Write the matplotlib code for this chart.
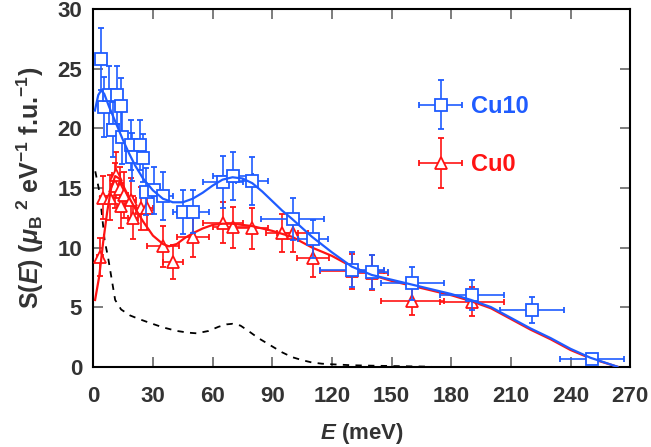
import matplotlib
matplotlib.use("Agg")
import matplotlib.pyplot as plt
from matplotlib.container import ErrorbarContainer
from matplotlib.legend_handler import HandlerErrorbar

plt.rcParams["font.family"] = ["Liberation Sans", "DejaVu Sans"]
plt.rcParams["font.weight"] = "bold"
plt.rcParams["mathtext.fontset"] = "custom"
plt.rcParams["mathtext.rm"] = "Liberation Sans:bold"
plt.rcParams["mathtext.it"] = "Liberation Sans:bold:italic"
plt.rcParams["mathtext.bf"] = "Liberation Sans:bold"

BLUE = "#1f5cff"
RED = "#ff1414"

# Cu10 data points
cu10_e = [3.7, 5.4, 7.8, 12.1, 14.1, 9.9, 14.5, 19.2, 23.4, 19.7, 25.0, 26.5, 30.3,
          35.2, 45.2, 50.2, 65.3, 70.4, 80.0, 100.2, 110.3, 130.2, 140.3, 160.5,
          190.6, 220.6, 250.9]
cu10_s = [25.8, 21.8, 22.8, 22.8, 21.9, 19.9, 19.3, 18.6, 18.6, 17.6, 17.5, 14.7, 14.8,
          14.3, 13.0, 13.0, 15.5, 16.0, 15.6, 12.4, 10.7, 8.15, 7.95, 7.0,
          6.0, 4.75, 0.65]
cu10_xerr = [1.5, 1.5, 1.5, 2, 2, 2, 2, 2.5, 2.5, 2.5, 2.5, 3, 3,
             5, 5, 8, 10, 10, 8, 16, 7.5, 16, 8, 16,
             16, 16, 16]
cu10_yerr = [2.6, 2.5, 2.4, 2.4, 2.3, 2.3, 2.3, 2.1, 2.1, 2.0, 2.0, 2.0, 2.0,
             2.0, 1.85, 1.8, 2.2, 2.0, 2.0, 1.8, 1.6, 1.45, 1.45, 1.4,
             1.25, 1.1, 0.1]

# Cu0 data points
cu0_e = [3.4, 4.9, 8.3, 10.8, 11.3, 13.3, 14.1, 15.5, 19.2, 20.0, 24.2, 26.8,
         35.0, 40.1, 50.2, 65.3, 70.4, 80.0, 95.1, 100.2, 110.3, 130.2, 140.3,
         160.5, 190.6]
cu0_s = [9.2, 14.2, 14.2, 15.2, 16.1, 14.9, 13.5, 14.4, 14.0, 12.5, 13.3, 13.3,
         10.1, 8.8, 10.9, 12.1, 11.7, 11.6, 11.2, 11.2, 9.1, 8.0, 7.9,
         5.5, 5.45]
cu0_xerr = [1.5, 1.5, 1.5, 2, 2, 2, 2, 2, 2.5, 2.5, 2.5, 3,
            8, 5, 8, 10, 10, 8, 8, 8, 8, 16, 8,
            16, 16]
cu0_yerr = [1.6, 1.8, 1.9, 1.9, 1.9, 1.9, 1.9, 1.9, 1.8, 1.8, 1.8, 1.8,
            1.7, 1.4, 1.7, 1.75, 1.7, 1.7, 1.6, 1.6, 1.6, 1.45, 1.45,
            1.2, 1.2]

# fitted curves
fit10_e = [0.8, 2.5, 4, 5.5, 8, 10, 12, 15, 18, 21, 25, 30, 35, 40, 45, 50, 55, 60,
           65, 70, 75, 80, 85, 90, 95, 100, 110, 120, 130, 140, 150, 160, 170, 180,
           190, 200, 210, 220, 230, 240, 250, 263.5]
fit10_s = [21.5, 22.8, 23.2, 22.9, 21.8, 21.0, 20.2, 19.0, 17.9, 16.9, 15.8, 14.8, 14.1,
           13.8, 13.8, 14.1, 14.6, 15.2, 15.7, 15.9, 15.8, 15.4, 14.7, 13.9, 13.1, 12.4,
           10.9, 9.6, 8.4, 7.7, 7.3, 6.9, 6.5, 6.1, 5.6, 5.0, 4.1, 3.2, 2.4, 1.5, 0.75, 0.0]

fit0_e = [0.9, 3, 5, 7, 9, 11, 13, 15, 18, 21, 25, 30, 35, 38, 42, 46, 50, 55, 60, 65,
          70, 75, 80, 90, 100, 110, 120, 130, 140, 150, 160, 170, 180, 190, 200, 210,
          220, 230, 240, 250, 263.5]
fit0_s = [5.6, 7.6, 10.5, 13.0, 15.0, 16.0, 15.8, 15.2, 14.2, 13.3, 12.2, 11.0, 10.3,
          10.1, 10.3, 10.8, 11.2, 11.6, 11.9, 12.0, 12.0, 11.9, 11.8, 11.4, 10.9, 10.0,
          9.3, 8.4, 7.7, 7.2, 6.8, 6.4, 6.0, 5.5, 4.9, 4.0, 3.1, 2.3, 1.4, 0.7, 0.0]

# dashed reference curve
ref_e = [1.0, 2.7, 4.0, 4.9, 5.7, 7.4, 8.8, 11, 14, 18.5, 23, 28, 35, 42, 48, 52, 58,
         63, 67, 70, 74, 78, 83, 89, 95, 100, 105, 110, 115, 120, 130, 141, 155, 170]
ref_s = [16.4, 15.0, 13.3, 11.9, 10.6, 9.2, 7.8, 5.6, 4.8, 4.3, 4.0, 3.7, 3.3, 3.0,
         2.85, 2.8, 3.0, 3.35, 3.55, 3.6, 3.45, 3.0, 2.4, 1.8, 1.2, 0.8, 0.55, 0.35,
         0.25, 0.2, 0.12, 0.08, 0.04, 0.0]

fig = plt.figure(figsize=(6.51, 4.47), dpi=100)
ax = fig.add_axes([0.1433, 0.1797, 0.8247, 0.7995])

ax.plot(ref_e, ref_s, color="black", lw=1.3, ls=(0, (3.5, 3.5)))

ax.errorbar(cu0_e, cu0_s, xerr=cu0_xerr, yerr=cu0_yerr, fmt="^", ms=9, mfc="white",
            mec=RED, mew=1.3, color=RED, ecolor=RED, elinewidth=1.2, capsize=2.5,
            capthick=1.2, label="Cu0", zorder=3)
ax.plot(fit0_e, fit0_s, color=RED, lw=1.6, zorder=4)

ax.errorbar(cu10_e, cu10_s, xerr=cu10_xerr, yerr=cu10_yerr, fmt="s", ms=8, mfc="white",
            mec=BLUE, mew=1.3, color=BLUE, ecolor=BLUE, elinewidth=1.2, capsize=2.5,
            capthick=1.2, label="Cu10", zorder=5)
ax.plot(fit10_e, fit10_s, color=BLUE, lw=1.6, zorder=6)

ax.set_xlim(0, 270)
ax.set_ylim(0, 30)
ax.set_xticks(range(0, 271, 30))
ax.set_yticks(range(0, 31, 5))
ax.tick_params(direction="in", length=7, width=1.2, color="#666666", top=True, right=True,
               labelsize=16, labelcolor="#333333")
ax.tick_params(axis="x", pad=14)
ax.tick_params(axis="y", pad=8)
for lab in ax.get_xticklabels() + ax.get_yticklabels():
    lab.set_fontweight("bold")
for sp in ax.spines.values():
    sp.set_linewidth(1.5)
    sp.set_color("black")

ax.set_xlabel(r"$E$ (meV)", fontsize=16, fontweight="bold", color="#333333", labelpad=10)
ax.set_ylabel(r"S($E$) ($\mu_{\rm B}$$^{\,\,2}$ eV$^{-1}$ f.u.$^{-1}$)", fontsize=18,
              fontweight="bold", color="#333333", labelpad=8)

handles, labels = ax.get_legend_handles_labels()
leg = ax.legend(handles[::-1], labels[::-1], loc="upper left", bbox_to_anchor=(0.568, 0.82),
                frameon=False, fontsize=17, handlelength=1.8, labelspacing=1.5,
                handletextpad=0.4,
                handler_map={ErrorbarContainer: HandlerErrorbar(xerr_size=0.9, yerr_size=1.05)})
for t, c in zip(leg.get_texts(), [BLUE, RED]):
    t.set_color(c)
    t.set_fontweight("bold")

fig.savefig("out.png", dpi=100)
